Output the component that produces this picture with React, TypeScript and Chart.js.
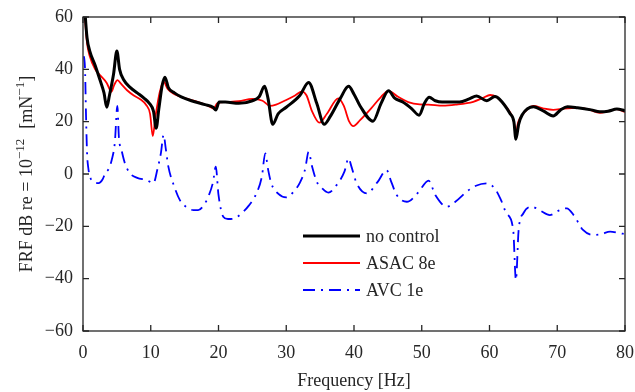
import React, { useEffect, useRef } from "react";
import Chart from "chart.js/auto";

// ---- data ----
const xTicks = [0, 10, 20, 30, 40, 50, 60, 70, 80];
const yTicks = [-60, -40, -20, 0, 20, 40, 60];

const noControlFreq = [0.05, 0.3, 0.6, 1.0, 1.8, 2.5, 3.1, 3.5, 3.9, 4.5, 5.0, 5.4, 6.0, 7.0, 8.0, 9.0, 9.8, 10.4, 10.8, 11.2, 11.7, 12.1, 12.6, 13.5, 14.5, 16, 18, 19.2, 19.6, 20.1, 21, 23, 25, 26, 26.8, 27.3, 28, 28.8, 30, 32, 33.3, 34.5, 35.6, 36.5, 38, 39.2, 40, 40.9, 42.8, 44, 45.1, 46, 47.2, 48.5, 49.6, 50.4, 51.1, 52, 53, 55.6, 57, 58.1, 59.6, 60.8, 61.5, 63, 63.6, 63.9, 64.3, 64.8, 66.5, 68, 69.4, 70.5, 71.5, 73, 75, 76.3, 77.5, 78.8, 80];
const noControlDb = [75, 62, 52, 47, 41.5, 36, 31, 25.5, 30, 38, 47, 40, 36, 33, 31, 29, 27, 24, 17.5, 25, 34, 37, 33, 31, 29.5, 28, 26.5, 25.5, 24.5, 27.5, 27.5, 27, 28, 29.5, 33.5, 29, 19, 23, 25.5, 30, 35, 27, 19, 22, 29, 33.5, 30.5, 26, 20.2, 27, 31.8, 29, 27.5, 25, 22.5, 27, 29.3, 28, 27.5, 27.5, 28.7, 29.8, 28, 29.6, 28.5, 23.2, 20, 13.3, 19, 22.5, 25.7, 24, 22.2, 24.5, 25.7, 25.3, 24.5, 23.8, 24, 24.8, 24.2];

const asacFreq = [0.05, 0.3, 0.6, 1.0, 1.8, 2.5, 3.5, 4.2, 4.6, 5.1, 5.6, 6.5, 7.5, 8.5, 9.3, 9.9, 10.3, 10.7, 11.3, 11.9, 12.5, 13.5, 15, 17, 18.5, 19.3, 19.8, 21, 23, 25, 26.5, 27.6, 28.5, 30, 31.3, 32.3, 33, 33.8, 34.9, 36, 37.7, 38.5, 39.3, 39.9, 40.9, 42.5, 44, 45.1, 46.5, 48, 49.7, 51, 53.1, 55, 57.6, 59, 60.1, 61, 62, 63, 63.6, 63.9, 64.2, 64.5, 65.5, 66.5, 68, 69.4, 71, 73, 74.5, 76.3, 77.5, 78.8, 80];
const asacDb = [75, 60, 50, 45, 40, 37.8, 34.8, 31.4, 34, 35.9, 34.5, 32, 30, 28.5, 26.5, 23, 14.5, 22, 31, 35.3, 32.5, 30.5, 29, 27.5, 26, 25, 27, 27.5, 27.8, 28.7, 28, 26, 26.5, 28.3, 30, 31.5, 30, 24, 19.6, 23, 28.9, 26, 20, 18.3, 20.6, 25, 29.5, 31.8, 29.5, 27.5, 26.6, 26.5, 26.1, 26.5, 27.6, 29, 30.2, 29.5, 27, 23.7, 20, 15.3, 19.5, 21.3, 24.5, 26, 25, 24.5, 25, 25.3, 24.8, 23.4, 24, 24.8, 23.7];

const avcFreq = [0.15, 0.3, 0.45, 0.6, 0.8, 1.1, 1.6, 2.3, 2.9, 3.3, 3.8, 4.3, 4.7, 5.07, 5.3, 5.7, 6.2, 6.9, 8, 9.4, 10.4, 11, 11.5, 11.9, 12.2, 12.6, 13.5, 14.3, 15.2, 16.3, 17, 17.8, 18.6, 19.2, 19.6, 20.0, 20.7, 21.4, 22.3, 23.2, 24.5, 25.6, 26.4, 26.9, 27.3, 27.8, 28.8, 30, 31, 32, 32.8, 33.3, 33.8, 34.5, 35.3, 36.2, 37.5, 38.6, 39.2, 39.6, 40.4, 41.9, 43.5, 44.8, 45.5, 46.3, 47.8, 49.5, 51, 52, 53.7, 55, 56.6, 58, 59.6, 60.8, 61.7, 62.5, 63.5, 63.9, 64.3, 65, 66.2, 67.5, 68.9, 70.2, 71.4, 72.5, 73.8, 75.3, 76.5, 77.8, 79, 80];
const avcDb = [45, 40, 22, 8, 2, -1.5, -3, -3.5, -2, 0.4, 2, 6, 12, 26, 14, 9, 4, 0.4, -1.5, -2.3, -3.5, 2, 8, 15, 10, 2.8, -5, -10, -12.5, -13.8, -13.8, -12, -8, -3, 2.8, -8, -16.3, -17.2, -17, -15.5, -12, -7.4, -1, 7.9, 2, -3.6, -7.5, -8.9, -7, -3.4, 2, 8.5, 3, -2.9, -5.5, -7.1, -4, 1, 6, 3, -3.6, -7.4, -3, 1.5, -3, -8, -10.6, -7, -2.5, -8, -12.5, -10.5, -6.8, -4.5, -3.6, -5.6, -10, -15, -21.4, -40.5, -21.4, -15, -12.5, -14, -15.7, -14, -13.1, -16, -21.4, -23.3, -23, -22, -22.5, -23];

const seriesNames = ["no control", "ASAC 8e", "AVC 1e"];
const seriesColors = ["#000000", "#ff0000", "#0000ff"];

const FONT = '"Liberation Serif", "Times New Roman", serif';
const AXIS_COLOR = "#262626";

const toPoints = (xs: number[], ys: number[]) => xs.map((x, i) => ({ x, y: ys[i] }));

const decorPlugin = {
  id: "decor",
  afterDraw(chart: any) {
    const { ctx, chartArea } = chart;
    const { left, right, top, bottom } = chartArea;
    const xs = chart.scales.x;
    const ys = chart.scales.y;
    ctx.save();
    // box
    ctx.strokeStyle = AXIS_COLOR;
    ctx.lineWidth = 1.3;
    ctx.strokeRect(left, top, right - left, bottom - top);
    // inward ticks
    const tl = 6;
    ctx.beginPath();
    xTicks.forEach((v) => {
      const px = xs.getPixelForValue(v);
      ctx.moveTo(px, bottom);
      ctx.lineTo(px, bottom - tl);
      ctx.moveTo(px, top);
      ctx.lineTo(px, top + tl);
    });
    yTicks.forEach((v) => {
      const py = ys.getPixelForValue(v);
      ctx.moveTo(left, py);
      ctx.lineTo(left + tl, py);
      ctx.moveTo(right, py);
      ctx.lineTo(right - tl, py);
    });
    ctx.stroke();

    // x title
    ctx.fillStyle = AXIS_COLOR;
    ctx.font = `18px ${FONT}`;
    ctx.textAlign = "center";
    ctx.textBaseline = "alphabetic";
    ctx.fillText("Frequency [Hz]", (left + right) / 2, 386);

    // y title with superscripts
    const parts: { t: string; sup: boolean; gapAfter?: number }[] = [
      { t: "FRF dB re = 10", sup: false },
      { t: "\u221212", sup: true, gapAfter: 10 },
      { t: "[mN", sup: false },
      { t: "\u22121", sup: true },
      { t: "]", sup: false },
    ];
    const fontFor = (sup: boolean) => (sup ? `13px ${FONT}` : `18px ${FONT}`);
    let total = 0;
    parts.forEach((p) => {
      ctx.font = fontFor(p.sup);
      total += ctx.measureText(p.t).width + (p.gapAfter || 0);
    });
    ctx.translate(32, (top + bottom) / 2);
    ctx.rotate(-Math.PI / 2);
    ctx.textAlign = "left";
    let cx = -total / 2;
    parts.forEach((p) => {
      ctx.font = fontFor(p.sup);
      ctx.fillText(p.t, cx, p.sup ? -8 : 0);
      cx += ctx.measureText(p.t).width + (p.gapAfter || 0);
    });
    ctx.restore();

    // legend
    ctx.save();
    const rowsY = [236, 263, 290];
    chart.data.datasets.forEach((ds: any, i: number) => {
      const y = rowsY[i];
      ctx.strokeStyle = ds.borderColor;
      ctx.lineWidth = ds.borderWidth;
      ctx.setLineDash(ds.borderDash || []);
      ctx.beginPath();
      ctx.moveTo(303, y);
      ctx.lineTo(360, y);
      ctx.stroke();
      ctx.setLineDash([]);
      ctx.fillStyle = AXIS_COLOR;
      ctx.font = `18px ${FONT}`;
      ctx.textAlign = "left";
      ctx.textBaseline = "middle";
      ctx.fillText(ds.label, 366, y + 1);
    });
    ctx.restore();
  },
};

export default function App() {
  const ref = useRef<HTMLCanvasElement | null>(null);
  useEffect(() => {
    if (!ref.current) return;
    const chart = new Chart(ref.current, {
      type: "line",
      data: {
        datasets: [
          {
            label: seriesNames[0],
            data: toPoints(noControlFreq, noControlDb),
            borderColor: seriesColors[0],
            borderWidth: 3,
            pointRadius: 0,
            cubicInterpolationMode: "monotone",
          },
          {
            label: seriesNames[1],
            data: toPoints(asacFreq, asacDb),
            borderColor: seriesColors[1],
            borderWidth: 1.8,
            pointRadius: 0,
            cubicInterpolationMode: "monotone",
          },
          {
            label: seriesNames[2],
            data: toPoints(avcFreq, avcDb),
            borderColor: seriesColors[2],
            borderWidth: 1.8,
            borderDash: [12, 6, 2, 6],
            pointRadius: 0,
            cubicInterpolationMode: "monotone",
          },
        ],
      },
      options: {
        animation: false,
        responsive: false,
        layout: { padding: { top: 17, right: 10, left: 0, bottom: 0 } },
        plugins: { legend: { display: false }, tooltip: { enabled: false } },
        scales: {
          x: {
            type: "linear",
            min: 0,
            max: 80,
            grid: { display: false, drawTicks: false },
            border: { display: false },
            afterBuildTicks: (s: any) => {
              s.ticks = xTicks.map((v) => ({ value: v }));
            },
            afterFit: (s: any) => {
              s.height = 61;
              s.paddingLeft = 0;
              s.paddingRight = 0;
              s.paddingTop = 0;
              s.paddingBottom = 0;
            },
            ticks: {
              color: AXIS_COLOR,
              font: { family: FONT, size: 18 },
              padding: 11,
              maxRotation: 0,
              callback: (v: any) => String(v),
            },
          },
          y: {
            type: "linear",
            min: -60,
            max: 60,
            grid: { display: false, drawTicks: false },
            border: { display: false },
            afterBuildTicks: (s: any) => {
              s.ticks = yTicks.map((v) => ({ value: v }));
            },
            afterFit: (s: any) => {
              s.width = 83;
              s.paddingLeft = 0;
              s.paddingRight = 0;
              s.paddingTop = 0;
              s.paddingBottom = 0;
            },
            ticks: {
              color: AXIS_COLOR,
              font: { family: FONT, size: 18 },
              padding: 10,
              callback: (v: any) => String(v).replace("-", "\u2212"),
            },
          },
        },
      } as any,
      plugins: [decorPlugin],
    });
    return () => chart.destroy();
  }, []);
  return (
    <div style={{ position: "fixed", left: 0, top: 0, width: 635, height: 392, background: "#fff" }}>
      <canvas ref={ref} width={635} height={392} style={{ display: "block" }} />
    </div>
  );
}
